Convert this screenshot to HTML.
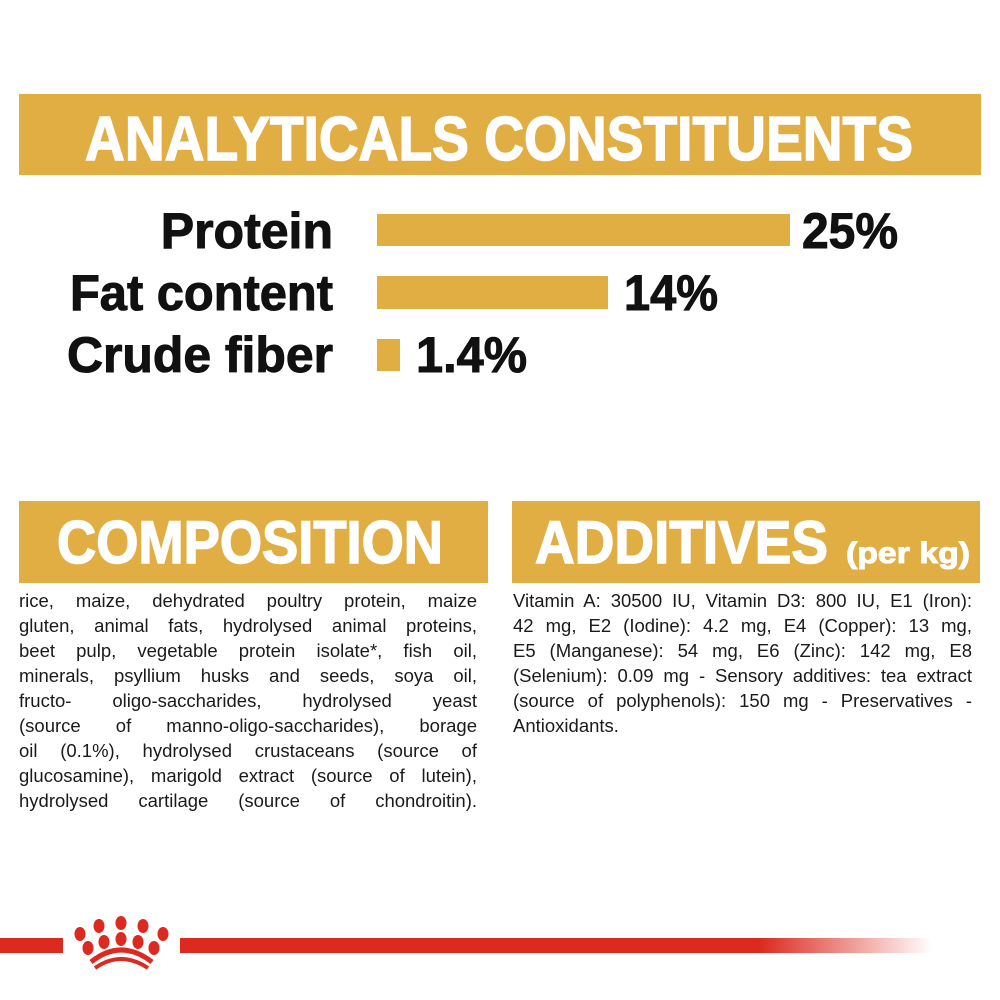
<!DOCTYPE html>
<html><head><meta charset="utf-8"><style>
html,body{margin:0;padding:0;background:#fff;}
#w{position:relative;width:1000px;height:1000px;overflow:hidden;}
svg{position:absolute;left:0;top:0;}
.t{position:absolute;font-family:"Liberation Sans",sans-serif;font-size:18.5px;color:#1a1a1a;line-height:25px;white-space:nowrap;}
.t div{text-align:justify;text-align-last:justify;height:25px;}
.t div.n{text-align-last:left;}
</style></head><body><div id="w">
<svg width="1000" height="1000" viewBox="0 0 1000 1000">
<defs><linearGradient id="g" x1="0" x2="1"><stop offset="0" stop-color="#dc2a20" stop-opacity="1"/><stop offset="1" stop-color="#dc2a20" stop-opacity="0"/></linearGradient></defs>
<rect x="19" y="94" width="962" height="81" fill="#e1ae43"/>
<text x="85" y="160" font-family="Liberation Sans,sans-serif" font-weight="bold" font-size="62" fill="#fff" stroke="#fff" stroke-width="1.5" textLength="828" lengthAdjust="spacingAndGlyphs">ANALYTICALS CONSTITUENTS</text>
<g font-family="Liberation Sans,sans-serif" font-weight="bold" font-size="50" fill="#111" stroke="#111" stroke-width="1">
<text x="333" y="248" text-anchor="end">Protein</text>
<text x="70" y="310" textLength="263" lengthAdjust="spacingAndGlyphs">Fat content</text>
<text x="67" y="372" textLength="266" lengthAdjust="spacingAndGlyphs">Crude fiber</text>
<text x="802" y="248" textLength="96" lengthAdjust="spacingAndGlyphs">25%</text>
<text x="624" y="310" textLength="94" lengthAdjust="spacingAndGlyphs">14%</text>
<text x="416" y="372" textLength="111" lengthAdjust="spacingAndGlyphs">1.4%</text>
</g>
<rect x="377" y="214" width="413" height="32" fill="#e1ae43"/>
<rect x="377" y="276" width="231" height="33" fill="#e1ae43"/>
<rect x="377" y="339" width="23" height="32" fill="#e1ae43"/>
<rect x="19" y="501" width="469" height="82" fill="#e1ae43"/>
<text x="57" y="563" font-family="Liberation Sans,sans-serif" font-weight="bold" font-size="60" fill="#fff" stroke="#fff" stroke-width="1.5" textLength="386" lengthAdjust="spacingAndGlyphs">COMPOSITION</text>
<rect x="512" y="501" width="468" height="82" fill="#e1ae43"/>
<text x="535" y="563" font-family="Liberation Sans,sans-serif" font-weight="bold" font-size="60" fill="#fff" stroke="#fff" stroke-width="1.5" textLength="293" lengthAdjust="spacingAndGlyphs">ADDITIVES</text>
<text x="846" y="563" font-family="Liberation Sans,sans-serif" font-weight="bold" font-size="30" fill="#fff" stroke="#fff" stroke-width="1" textLength="124" lengthAdjust="spacingAndGlyphs">(per kg)</text>
<rect x="0" y="938" width="63" height="15" fill="#dc2a20"/>
<rect x="180" y="938" width="580" height="15" fill="#dc2a20"/>
<rect x="760" y="938" width="172" height="15" fill="url(#g)"/>
<g fill="#dc2a20">
<ellipse cx="80" cy="934" rx="5.5" ry="7"/><ellipse cx="99" cy="926" rx="5.5" ry="7"/><ellipse cx="121" cy="923" rx="5.5" ry="7"/><ellipse cx="143" cy="926" rx="5.5" ry="7"/><ellipse cx="163" cy="934" rx="5.5" ry="7"/>
<ellipse cx="88" cy="948" rx="5.5" ry="7"/><ellipse cx="104" cy="942" rx="5.5" ry="7"/><ellipse cx="121" cy="939" rx="5.5" ry="7"/><ellipse cx="138" cy="942" rx="5.5" ry="7"/><ellipse cx="154" cy="948" rx="5.5" ry="7"/>
</g>
<path d="M91 962 Q121 938 152 962" stroke="#dc2a20" stroke-width="5" fill="none"/>
<path d="M95 968 Q121 950 148 968" stroke="#dc2a20" stroke-width="4" fill="none"/>
</svg>
<div class="t" style="left:19px;top:588px;width:458px;">
<div>rice, maize, dehydrated poultry protein, maize</div>
<div>gluten, animal fats, hydrolysed animal proteins,</div>
<div>beet pulp, vegetable protein isolate*, fish oil,</div>
<div>minerals, psyllium husks and seeds, soya oil,</div>
<div>fructo- oligo-saccharides, hydrolysed yeast</div>
<div>(source of manno-oligo-saccharides), borage</div>
<div>oil (0.1%), hydrolysed crustaceans (source of</div>
<div>glucosamine), marigold extract (source of lutein),</div>
<div>hydrolysed cartilage (source of chondroitin).</div>
</div>
<div class="t" style="left:513px;top:588px;width:459px;">
<div>Vitamin A: 30500 IU, Vitamin D3: 800 IU, E1 (Iron):</div>
<div>42 mg, E2 (Iodine): 4.2 mg, E4 (Copper): 13 mg,</div>
<div>E5 (Manganese): 54 mg, E6 (Zinc): 142 mg, E8</div>
<div>(Selenium): 0.09 mg - Sensory additives: tea extract</div>
<div>(source of polyphenols): 150 mg - Preservatives -</div>
<div class="n">Antioxidants.</div>
</div>
</div></body></html>
